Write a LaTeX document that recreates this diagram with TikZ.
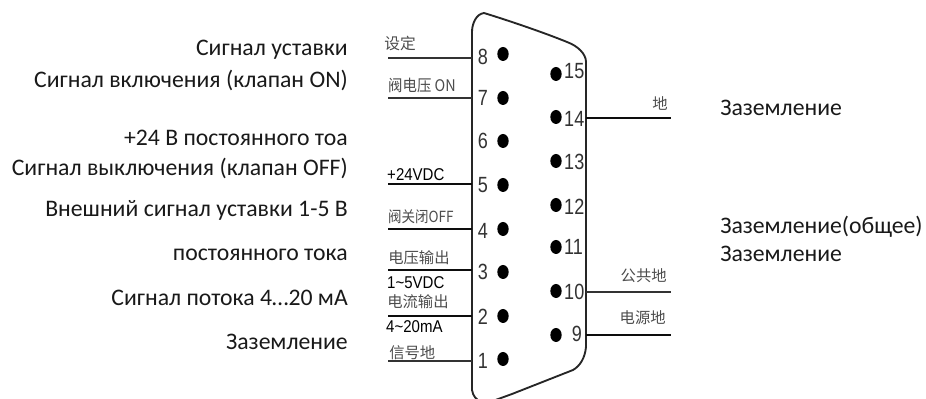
\documentclass[tikz,border=0pt]{standalone}
\usepackage{fontspec}
\usetikzlibrary{shapes.geometric}
\setmainfont{Carlito}
\newfontfamily\cjk{Noto Sans CJK SC}
\newfontfamily\arialn{Liberation Sans}
\tikzset{
  ru/.style={font=\fontsize{17.8}{20}\selectfont,text=black!90,inner sep=0pt},
  rul/.style={ru,anchor=east},
  rur/.style={ru,anchor=west},
  cn/.style={inner sep=0pt,anchor=west,text=black!70,font=\cjk\fontsize{11.5}{12}\selectfont},
  cnr/.style={cn,anchor=east},
  lat/.style={inner sep=0pt,anchor=west,text=black,xscale=.88,font=\arialn\fontsize{12.8}{13}\selectfont},
  num/.style={inner sep=0pt,text=black!80,xscale=.82,font=\arialn\fontsize{16.5}{17}\selectfont},
  hole/.style={ellipse,fill=black,inner sep=0pt,minimum width=8.5pt,minimum height=10.5pt},
  wire/.style={draw=black!80,line width=1.1pt},
  heavywire/.style={draw=black!95,line width=1.6pt},
  body/.style={draw=black!85,line width=1.4pt}
}
\begin{document}
\begin{tikzpicture}[x=0.75pt,y=-0.75pt]
\useasboundingbox (0,0) rectangle (926,399);
\begin{scope}
\clip (0,0) rectangle (926,399);
\draw[body] (472,32) .. controls (472,24) and (476,14) .. (484,13)
  .. controls (510,21) and (545,33) .. (567,42)
  .. controls (578,46) and (586,54) .. (586,62)
  -- (586,347)
  .. controls (585,358) and (580,366) .. (573,370)
  -- (512,394) -- (490,402)
  (472,390) .. controls (473,396) and (476,400) .. (482,402);
\draw[body] (472,32) -- (472,390);
\end{scope}
% left pins
\foreach \n/\yy/\ny in {8/54/57,7/98/98,6/141/141,5/185/185,4/229/231,3/272/272,2/316/317,1/359/361}{
  \node[hole] (h\n) at (503,\yy) {};
  \node[num] (n\n) at (483,\ny) {\n};
}
% right pins
\foreach \n/\yy/\ny in {15/74/71,14/117/119,13/161/162,12/205/207,11/247/247,10/291/292}{
  \node[hole] (h\n) at (556,\yy) {};
  \node[num,anchor=west] (n\n) at (564,\ny) {\n};
}
\node[hole] (h9) at (556,335) {};
\node[num] (n9) at (577,334) {9};
% wire ends
\foreach \n/\yy in {8/58,7/98,5/184,4/229,3/270,2/316,1/361}{
  \coordinate (a\n) at (388,\yy);
  \coordinate (b\n) at (472,\yy);
}
\foreach \n/\yy in {14/118,10/292,9/335}{
  \coordinate (a\n) at (586,\yy);
  \coordinate (b\n) at (671,\yy);
}
\draw[wire] (a8)--(b8); \draw[wire] (a7)--(b7); \draw[wire] (a1)--(b1);
\draw[heavywire] (a5)--(b5); \draw[heavywire] (a4)--(b4);
\draw[heavywire] (a3)--(b3); \draw[heavywire] (a2)--(b2);
\draw[heavywire] (a14)--(b14); \draw[wire,line width=0.8pt] (a10)--(b10); \draw[heavywire] (a9)--(b9);
% CJK labels
\node[cn,font=\cjk\fontsize{11.8}{12}\selectfont] (t8) at (384,43) {设定};
\node[cn,font=\cjk\fontsize{12}{12}\selectfont,xscale=.9] (t7) at (388,85) {阀电压 ON};
\node[lat] (t5) at (387,175) {+24VDC};
\node[cn,font=\cjk\fontsize{11.5}{12}\selectfont,xscale=.88] (t4) at (388,217) {阀关闭OFF};
\node[cn] (t3) at (388,258) {电压输出};
\node[lat] (t3b) at (387,283) {1\textasciitilde5VDC};
\node[cn] (t2) at (387,302) {电流输出};
\node[lat] (t2b) at (386,327) {4\textasciitilde20mA};
\node[cn] (t1) at (389,353) {信号地};
\node[cnr] (t14) at (668,103) {地};
\node[cnr] (t10) at (667,276) {公共地};
\node[cnr] (t9) at (666,318) {电源地};
% Russian labels
\node[rul] (r1) at (348,50) {Сигнал уставки};
\node[rul] (r2) at (348,80) {Сигнал включения (клапан ON)};
\node[rul] (r3) at (348,138) {+24 В постоянного тоа};
\node[rul] (r4) at (348,168) {Сигнал выключения (клапан OFF)};
\node[rul] (r5) at (348,210) {Внешний сигнал уставки 1-5 В};
\node[rul] (r6) at (348,255) {постоянного тока};
\node[rul] (r7) at (348,298) {Сигнал потока 4…20 мА};
\node[rul] (r8) at (348,342) {Заземление};
\node[rur] (l1) at (720,108) {Заземление};
\node[rur] (l2) at (720,227) {Заземление(общее)};
\node[rur] (l3) at (720,254) {Заземление};
\end{tikzpicture}
\end{document}
